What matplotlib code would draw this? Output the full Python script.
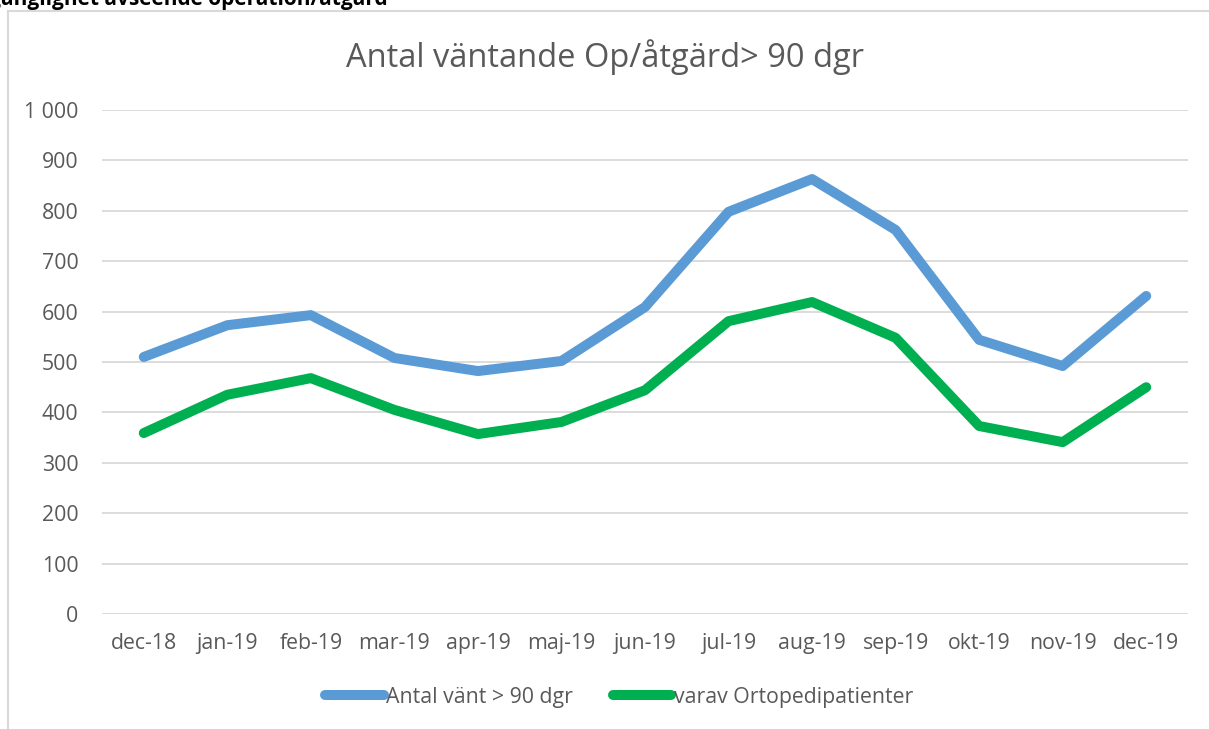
import matplotlib
matplotlib.use("Agg")
import matplotlib.pyplot as plt
from matplotlib.lines import Line2D
import numpy as np

plt.rcParams["font.family"] = ["Open Sans", "DejaVu Sans"]

months = ["dec-18", "jan-19", "feb-19", "mar-19", "apr-19", "maj-19", "jun-19",
          "jul-19", "aug-19", "sep-19", "okt-19", "nov-19", "dec-19"]
antal_vant = [510, 573, 593, 508, 482, 502, 609, 798, 863, 762, 544, 492, 631]
ortopedi = [359, 435, 468, 405, 357, 381, 444, 581, 619, 548, 373, 341, 450]

BLUE = "#5B9BD5"
GREEN = "#00B050"
GREY = "#595959"
GRID = "#D9D9D9"
FS = 15.3

fig = plt.figure(figsize=(12.09, 7.29), dpi=100)
ax = fig.add_axes([102 / 1209, 1 - 614 / 729, (1188 - 102) / 1209, (614 - 110) / 729])

x = np.arange(len(months))
ax.plot(x, antal_vant, color=BLUE, lw=7.2, solid_capstyle="round", solid_joinstyle="round")
ax.plot(x, ortopedi, color=GREEN, lw=7.2, solid_capstyle="round", solid_joinstyle="round")

ax.set_xlim(-0.5, len(months) - 0.5)
ax.set_ylim(0, 1000)
ax.set_yticks(np.arange(0, 1001, 100))
ax.set_yticklabels([f"{v:,}".replace(",", " ") for v in range(0, 1001, 100)])
ax.set_xticks(x)
ax.set_xticklabels(months)
ax.tick_params(length=0, colors=GREY, labelsize=FS)
ax.tick_params(axis="x", pad=14)
ax.tick_params(axis="y", pad=17)
ax.grid(axis="y", color=GRID, lw=1.3)
ax.set_axisbelow(True)
for s in ax.spines.values():
    s.set_visible(False)

fig.text(0.5, 1 - 57 / 729, "Antal väntande Op/åtgärd> 90 dgr", ha="center",
         va="center", fontsize=23.5, color=GREY)

# cropped header of the surrounding document
fig.text(388 / 1209, 1 - 5 / 729, "Tillgänglighet avseende operation/åtgärd",
         ha="right", va="baseline", fontsize=15, fontweight="bold", color="black")

# chart frame (left and top edges visible)
fig.add_artist(Line2D([8 / 1209, 8 / 1209], [0, 1 - 11 / 729], color=GRID, lw=1.5))
fig.add_artist(Line2D([8 / 1209, 1], [1 - 11 / 729, 1 - 11 / 729], color=GRID, lw=1.5))

handles = [Line2D([], [], color=BLUE, lw=7.2, solid_capstyle="round"),
           Line2D([], [], color=GREEN, lw=7.2, solid_capstyle="round")]
fig.legend(handles, ["Antal vänt > 90 dgr", "varav Ortopedipatienter"],
           loc="center", bbox_to_anchor=(0.512, 1 - 697 / 729), ncol=2,
           frameon=False, fontsize=FS, labelcolor=GREY, handlelength=2.75,
           handletextpad=0.1, columnspacing=1.9)

fig.savefig("out.png", dpi=100)
